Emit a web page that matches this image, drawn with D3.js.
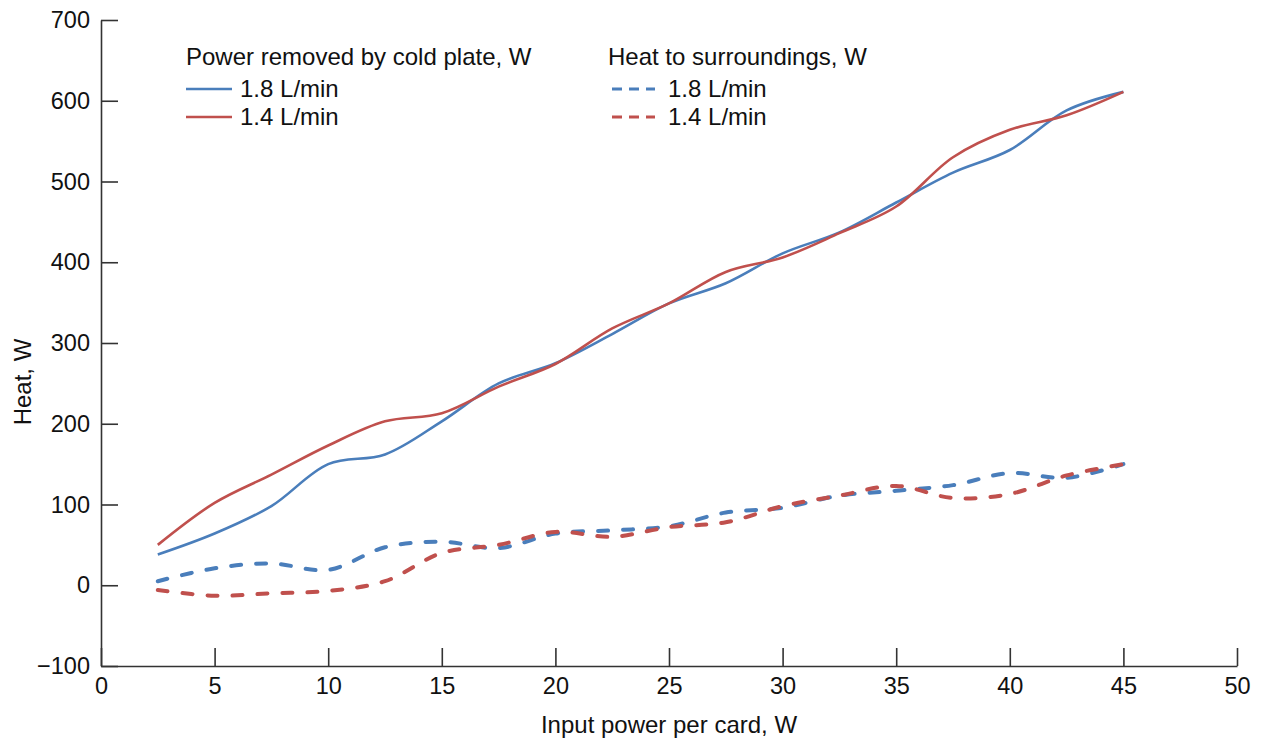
<!DOCTYPE html>
<html lang="en">
<head>
<meta charset="utf-8">
<title>Heat vs input power</title>
<script src="https://d3js.org/d3.v7.min.js"></script>
<style>
  body { margin: 0; background: #fff; }
  text { font-family: "Liberation Sans", Arial, sans-serif; fill: #111; }
  .axis path, .axis line { stroke: #333; stroke-width: 1.6px; }
  .axis text { font-size: 23.5px; }
</style>
</head>
<body>
<div id="chart"></div>
<script>
// input power per card, W
var inputPower = [2.5, 5, 7.5, 10, 12.5, 15, 17.5, 20, 22.5, 25, 27.5, 30, 32.5, 35, 37.5, 40, 42.5, 45];
// power removed by cold plate, W
var plate18 = [38, 64, 98, 150, 162, 203, 250, 275, 311, 349, 374, 411, 437, 474, 511, 539, 588, 611];
var plate14 = [50, 102, 137, 173, 203, 213, 246, 274, 318, 349, 388, 406, 436, 469, 530, 564, 582, 611];
// heat to surroundings, W
var surr18 = [5, 21, 27, 19, 47, 54, 46, 64, 68, 73, 90, 96, 111, 117, 124, 139, 133, 150];
var surr14 = [-6, -13, -10, -7, 5, 40, 50, 66, 60, 72, 78, 98, 111, 123, 108, 113, 136, 150];

var xTicks = [0, 5, 10, 15, 20, 25, 30, 35, 40, 45, 50];
var yTicks = [-100, 0, 100, 200, 300, 400, 500, 600, 700];

var blue = "#4a7ebb", red = "#c0504d";

var W = 1261, H = 740;
var svg = d3.select("#chart").append("svg")
    .attr("width", W).attr("height", H);

var x = d3.scaleLinear().domain([0, 50]).range([101, 1237]);
var y = d3.scaleLinear().domain([-100, 700]).range([666, 20]);

// axes (ticks point inward)
svg.append("g")
    .attr("class", "axis")
    .attr("transform", "translate(0," + y(-100) + ")")
    .call(d3.axisBottom(x).tickValues(xTicks).tickSize(-18).tickPadding(20).tickSizeOuter(0))
  .selectAll("text").attr("dy", "0.35em");

svg.append("g")
    .attr("class", "axis")
    .attr("transform", "translate(" + x(0) + ",0)")
    .call(d3.axisLeft(y).tickValues(yTicks).tickSize(-17).tickPadding(11).tickSizeOuter(0)
      .tickFormat(function(d){ return d < 0 ? "\u2212" + Math.abs(d) : d; }));

// axis labels
svg.append("text")
    .attr("x", 669).attr("y", 733)
    .attr("text-anchor", "middle")
    .style("font-size", "24px")
    .text("Input power per card, W");

svg.append("text")
    .attr("transform", "translate(31,382) rotate(-90)")
    .attr("text-anchor", "middle")
    .style("font-size", "24px")
    .text("Heat, W");

// lines
var line = function(vals) {
  return d3.line()
    .x(function(d, i){ return x(inputPower[i]); })
    .y(function(d){ return y(d); })
    .curve(d3.curveCatmullRom.alpha(0.5))(vals);
};

var series = [
  {vals: surr18, color: blue, dash: true},
  {vals: surr14, color: red, dash: true},
  {vals: plate18, color: blue, dash: false},
  {vals: plate14, color: red, dash: false}
];

series.forEach(function(s) {
  svg.append("path")
    .attr("d", line(s.vals))
    .attr("fill", "none")
    .attr("stroke", s.color)
    .attr("stroke-width", s.dash ? 4 : 2.6)
    .attr("stroke-linecap", s.dash ? "round" : "butt")
    .style("stroke-dasharray", s.dash ? "10,15" : null);
});

// legend
function legendBlock(x0, title, dash) {
  svg.append("text").attr("x", x0).attr("y", 65)
    .style("font-size", "24px").text(title);
  [["1.8 L/min", blue], ["1.4 L/min", red]].forEach(function(r, i) {
    var yy = 89 + i * 28;
    svg.append("line")
      .attr("x1", x0 + (dash ? 4 : 0)).attr("x2", x0 + (dash ? 47 : 46))
      .attr("y1", yy).attr("y2", yy)
      .attr("stroke", r[1])
      .attr("stroke-width", dash ? 3 : 2.6)
      .style("stroke-dasharray", dash ? "10,7" : null);
    svg.append("text").attr("x", x0 + (dash ? 60 : 54)).attr("y", yy + 8)
      .style("font-size", "24px").text(r[0]);
  });
}
legendBlock(186, "Power removed by cold plate, W", false);
legendBlock(608, "Heat to surroundings, W", true);
</script>
</body>
</html>
